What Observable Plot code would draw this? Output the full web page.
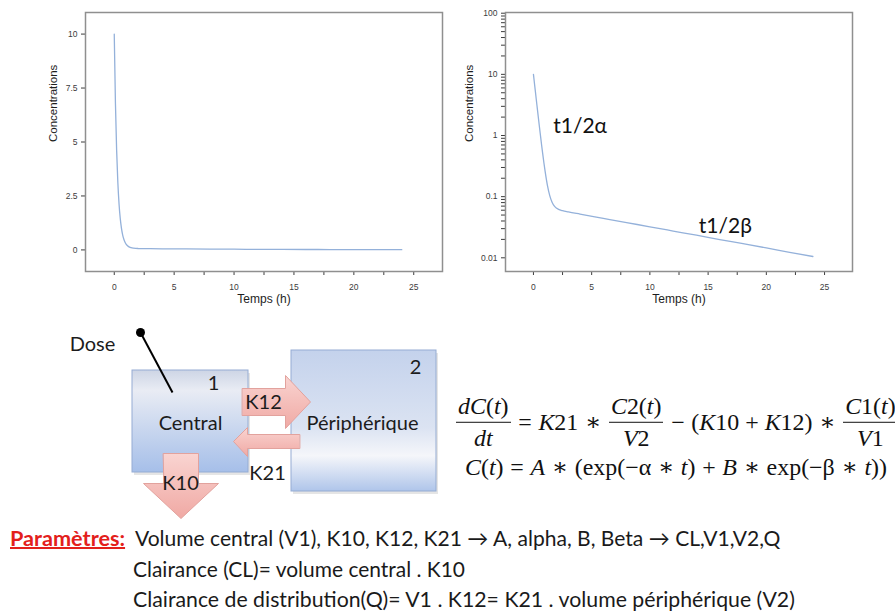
<!DOCTYPE html>
<html>
<head>
<meta charset="utf-8">
<script src="https://cdn.jsdelivr.net/npm/d3@7"></script>
<script src="https://cdn.jsdelivr.net/npm/@observablehq/plot@0.6"></script>
<style>
  html, body { margin: 0; background: #fff; }
  #page { position: relative; width: 895px; height: 615px; overflow: hidden; background: #fff; }
  .abs { position: absolute; }
  .txt { position: absolute; white-space: nowrap; font-family: Lato, "Open Sans", sans-serif; font-size: 19px;
         color: #1a1a1a; line-height: 1.2; transform: translateY(-50%); }
  .red { color: #e3201b; font-weight: bold; text-decoration: underline; text-decoration-thickness: 1.5px; }
  .eq { position: absolute; display: flex; align-items: center; white-space: nowrap; transform: translateY(-50%);
        font-family: "Liberation Serif", "DejaVu Serif", serif; font-size: 21px; color: #111; line-height: 1.2; }
  .eq .op { margin: 0 0.28em; }
  .frac { display: inline-flex; flex-direction: column; text-align: center; margin: 0 1px; }
  .frac .num { border-bottom: 1.5px solid #111; padding: 0 2px 1px; }
  .frac .den { padding-top: 1px; }
</style>
</head>
<body>
<div id="page">
  <div id="linear" class="abs" style="left:0;top:0"></div>
  <div id="semilog" class="abs" style="left:445px;top:0"></div>
  <div id="diagram" class="abs" style="left:0;top:320px"></div>

  <div id="eq1" class="eq" style="left:455px;top:422px">
    <span class="frac"><span class="num"><i>dC</i>(<i>t</i>)</span><span class="den"><i>dt</i></span></span>
    <span class="op">=</span><span><i>K</i>21</span><span class="op">∗</span>
    <span class="frac"><span class="num"><i>C</i>2(<i>t</i>)</span><span class="den"><i>V</i>2</span></span>
    <span class="op">−</span><span>(<i>K</i>10 + <i>K</i>12)</span><span class="op">∗</span>
    <span class="frac"><span class="num"><i>C</i>1(<i>t</i>)</span><span class="den"><i>V</i>1</span></span>
  </div>
  <div id="eq2" class="eq" style="left:465px;top:467px">
    <span><i>C</i>(<i>t</i>)</span><span class="op">=</span><span><i>A</i></span><span class="op">∗</span>
    <span>(exp(−α</span><span class="op">∗</span><span><i>t</i>)</span><span class="op">+</span><span><i>B</i></span><span class="op">∗</span>
    <span>exp(−β</span><span class="op">∗</span><span><i>t</i>))</span>
  </div>

  <div id="p0" class="txt red" style="left:10px;top:538px">Paramètres:</div>
  <div id="p1" class="txt" style="left:135px;top:538px">Volume central (V1), K10, K12, K21 → A, alpha, B, Beta → CL,V1,V2,Q</div>
  <div id="p2" class="txt" style="left:133px;top:569px">Clairance (CL)= volume central . K10</div>
  <div id="p3" class="txt" style="left:133px;top:600px">Clairance de distribution(Q)= V1 . K12= K21 . volume périphérique (V2)</div>
</div>

<script>
// Concentration–time profile of the two-compartment model (same curve on both panels)
const time = [0, 0.1, 0.2, 0.3, 0.4, 0.5, 0.6, 0.7, 0.8, 0.9, 1.0, 1.2, 1.4, 1.6, 1.8, 2.0, 2.5, 3, 4, 6, 8, 10, 12, 14, 16, 18, 20, 22, 24];
const conc = [10.0, 6.77, 4.60, 3.12, 2.13, 1.46, 1.01, 0.70, 0.495, 0.355, 0.261, 0.153, 0.104, 0.081, 0.0700, 0.0644, 0.0590, 0.0562, 0.0518, 0.0442, 0.0377, 0.0321, 0.0274, 0.0234, 0.0199, 0.0170, 0.0145, 0.0123, 0.0105];

// Axis tick labels
const timeTicks = [0, 5, 10, 15, 20, 25];
const linTicks = [0, 2.5, 5, 7.5, 10];
const logTicks = [0.01, 0.1, 1, 10, 100];

// Phase annotations on the semi-log panel
const phaseLabels = ["t1/2α", "t1/2β"];
const phaseTime = [1.7, 14.2];
const phaseConc = [1.4, 0.033];

// Compartment diagram
const compartmentNames = ["Central", "Périphérique"];
const compartmentIds = ["1", "2"];
const rateNames = ["K12", "K21", "K10"];

const profile = time.map((t, i) => ({t, c: conc[i]}));
const phases = phaseLabels.map((label, i) => ({label, t: phaseTime[i], c: phaseConc[i]}));

const xMinor = timeTicks.flatMap(d => [d, d + 2.5]).filter(d => d <= 25);
const logMinor = logTicks.slice(0, -1).flatMap(p => d3.range(1, 10).map(k => k * p)).concat([100]);
const isMajorLog = d => logTicks.some(v => Math.abs(v - d) / v < 1e-9);

const axisStyle = {
  fontFamily: '"Liberation Sans", Arial, sans-serif',
  fontSize: "8.5px",
  color: "#3c3c3c",
  background: "transparent",
  overflow: "visible"
};

function panel({width, marginLeft, marginRight, y, labelDx, extra = []}) {
  return Plot.plot({
    width, height: 310, marginLeft, marginRight, marginTop: 12, marginBottom: 39,
    style: axisStyle,
    x: {domain: [-2.4, 27.4], ticks: xMinor, tickFormat: d => timeTicks.includes(d) ? String(d) : "",
        tickSize: 4, tickPadding: 8, label: null},
    y: {...y, tickSize: 4, tickPadding: 4, label: null},
    marks: [
      Plot.frame({stroke: "#8f8f8f", strokeWidth: 1.5}),
      Plot.line(profile, {x: "t", y: "c", stroke: "#94b1da", strokeWidth: 1.3, curve: "monotone-x"}),
      Plot.text(["Temps (h)"], {text: d => d, frameAnchor: "bottom", dy: 31, fontSize: 12, fill: "#1e1e1e"}),
      Plot.text(["Concentrations"], {text: d => d, frameAnchor: "left", dx: labelDx, rotate: -90, fontSize: 11.5, fill: "#1e1e1e"}),
      ...extra
    ]
  });
}

document.getElementById("linear").append(panel({
  width: 445, marginLeft: 85, marginRight: 3, labelDx: -32,
  y: {domain: [-1, 11], ticks: linTicks, tickFormat: d => String(d)}
}));

document.getElementById("semilog").append(panel({
  width: 450, marginLeft: 60, marginRight: 43, labelDx: -36,
  y: {type: "log", domain: [0.00597, 102.7], ticks: logMinor, tickFormat: d => isMajorLog(d) ? String(+d.toPrecision(3)) : ""},
  extra: [
    Plot.text(phases, {x: "t", y: "c", text: "label", textAnchor: "start", fontSize: 21,
                       fontFamily: "Lato, 'Open Sans', sans-serif", fill: "#111"})
  ]
}));

// ---- compartment diagram (units are diagram pixels) ----
const boxes = [
  {name: compartmentNames[1], x1: 291, x2: 436, y1: 30, y2: 171},
  {name: compartmentNames[0], x1: 132, x2: 248, y1: 50, y2: 152}
];
const arrowShapes = {
  K12: [[242, 68], [285, 68], [285, 55], [310, 81.5], [285, 108], [285, 95], [242, 95]],
  K21: [[299, 114], [247, 114], [247, 107], [233, 121], [247, 136], [247, 128], [299, 128]],
  K10: [[163, 133], [198, 133], [198, 163], [218, 163], [180.5, 198], [143, 163], [163, 163]]
};
const arrowPoints = rateNames.flatMap(id => arrowShapes[id].map(([x, y]) => ({id, x, y})));
const dose = [{x1: 140, y1: 12, x2: 172, y2: 72}];
const labels = [
  {text: "Dose", x: 92, y: 24},
  {text: compartmentIds[0], x: 213, y: 63},
  {text: compartmentNames[0], x: 190, y: 103},
  {text: compartmentIds[1], x: 415, y: 47},
  {text: compartmentNames[1], x: 362, y: 103},
  {text: rateNames[0], x: 263, y: 82},
  {text: rateNames[1], x: 267, y: 153},
  {text: rateNames[2], x: 180, y: 163}
];

const diagram = Plot.plot({
  width: 450, height: 215, margin: 0,
  x: {domain: [0, 450], range: [0, 450], axis: null},
  y: {domain: [0, 215], range: [0, 215], axis: null},
  style: {background: "transparent", overflow: "visible"},
  marks: [
    Plot.rect(boxes, {x1: d => d.x1 + 2, x2: d => d.x2 + 2, y1: d => d.y1 + 3, y2: d => d.y2 + 3, fill: "#000", fillOpacity: 0.1}),
    Plot.rect(boxes.slice(0, 1), {x1: "x1", x2: "x2", y1: "y1", y2: "y2", fill: "url(#gPeriph)", stroke: "#95acd3"}),
    Plot.rect(boxes.slice(1), {x1: "x1", x2: "x2", y1: "y1", y2: "y2", fill: "url(#gCentral)", stroke: "#95acd3"}),
    Plot.line(arrowPoints, {x: "x", y: "y", z: "id", curve: "linear-closed", fill: "url(#gArrow)", stroke: "#e2a29d", strokeWidth: 1}),
    Plot.link(dose, {x1: "x1", y1: "y1", x2: "x2", y2: "y2", stroke: "#000", strokeWidth: 2}),
    Plot.dot(dose, {x: "x1", y: "y1", r: 4.5, fill: "#000"}),
    Plot.text(labels, {x: "x", y: "y", text: "text", fontSize: 20, fontFamily: "Lato, 'Open Sans', sans-serif", fill: "#1c1c1c"})
  ]
});
d3.select(diagram).insert("defs", ":first-child").html(`
  <linearGradient id="gCentral" x1="0" y1="0" x2="0" y2="1">
    <stop offset="0" stop-color="#cdd5e5"/><stop offset="0.2" stop-color="#e9ecf4"/>
    <stop offset="0.55" stop-color="#cbd8ef"/><stop offset="1" stop-color="#a6bfe9"/>
  </linearGradient>
  <linearGradient id="gPeriph" x1="0" y1="0" x2="0" y2="1">
    <stop offset="0" stop-color="#c4d2ec"/><stop offset="0.55" stop-color="#dbe3f2"/>
    <stop offset="0.75" stop-color="#f5f6fa"/><stop offset="1" stop-color="#afc5ea"/>
  </linearGradient>
  <linearGradient id="gArrow" x1="0" y1="0" x2="0" y2="1">
    <stop offset="0" stop-color="#f9d4d1"/><stop offset="1" stop-color="#f0a9a4"/>
  </linearGradient>`);
document.getElementById("diagram").append(diagram);

// ---- fit the text blocks to their widths ----
function fitWidth(id, width) {
  const el = document.getElementById(id);
  const w = el.getBoundingClientRect().width;
  const fs = parseFloat(getComputedStyle(el).fontSize);
  el.style.fontSize = (fs * width / w) + "px";
}
function layoutText() {
  fitWidth("p0", 115);
  fitWidth("p1", 645);
  fitWidth("p2", 332);
  fitWidth("p3", 662);
  fitWidth("eq2", 422);
  document.getElementById("eq1").style.fontSize = document.getElementById("eq2").style.fontSize;
}
layoutText();
if (document.fonts && document.fonts.ready) document.fonts.ready.then(layoutText);
</script>
</body>
</html>
